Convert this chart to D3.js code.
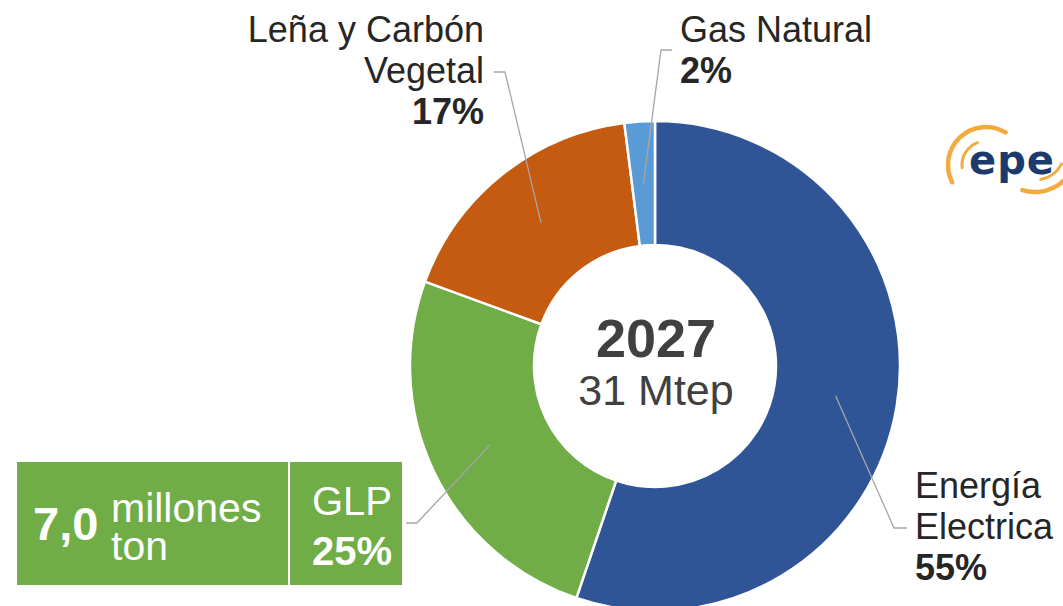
<!DOCTYPE html>
<html>
<head>
<meta charset="utf-8">
<script src="https://cdn.jsdelivr.net/npm/d3@7"></script>
<style>
  body { margin: 0; background: #fff; }
  svg { display: block; font-family: "Liberation Sans", Arial, sans-serif; }
</style>
</head>
<body>
<div id="chart"></div>
<script>
// data
var categories = ["Energía Electrica", "GLP", "Leña y Carbón Vegetal", "Gas Natural"];
var shares = [55.2, 25.4, 17.4, 2.0];
var pctLabels = ["55%", "25%", "17%", "2%"];
var colors = ["#2F5597", "#70AD47", "#C55A11", "#5B9BD5"];
var centerYear = "2027";
var centerTotal = "31 Mtep";
var glpVolume = "7,0";
var glpUnit = ["millones", "ton"];

var svgWidth = 1063;
var svgHeight = 606;
var cx = 655, cy = 366;
var outerR = 245, innerR = 121;

var svg = d3.select("#chart")
  .append("svg")
  .attr("width", svgWidth)
  .attr("height", svgHeight);

var g = svg.append("g").attr("transform", `translate(${cx},${cy})`);

var pie = d3.pie().sort(null).value(d => d.value);
var arc = d3.arc().innerRadius(innerR).outerRadius(outerR);
var midArc = d3.arc().innerRadius(183).outerRadius(183);

var slices = pie(categories.map((c, i) => ({ name: c, value: shares[i], i: i })));

g.selectAll("path.slice")
  .data(slices)
  .enter()
  .append("path")
  .attr("class", "slice")
  .attr("d", arc)
  .attr("fill", d => colors[d.data.i])
  .attr("stroke", "#fff")
  .attr("stroke-width", 2.5);

// center text
g.append("text")
  .attr("x", 1).attr("y", -9)
  .attr("text-anchor", "middle")
  .attr("font-size", "54px")
  .attr("font-weight", "bold")
  .attr("fill", "#404040")
  .text(centerYear);

g.append("text")
  .attr("x", 1).attr("y", 39)
  .attr("text-anchor", "middle")
  .attr("font-size", "43px")
  .attr("fill", "#404040")
  .text(centerTotal);

// label layout (page coords): leader elbow, leader end, text anchor
var labelLayout = [
  { elbow: [894, 528], end: [907, 528], x: 915, y: 498, anchor: "start", lines: ["Energía", "Electrica"] },
  { elbow: [417, 523], end: [406, 523], x: null },
  { elbow: [505, 72], end: [494, 72], x: 484, y: 42, anchor: "end", lines: ["Leña y Carbón", "Vegetal"] },
  { elbow: [661, 50], end: [672, 50], x: 680, y: 42, anchor: "start", lines: ["Gas Natural"] }
];

slices.forEach(function(d, i) {
  var L = labelLayout[i];
  var c = midArc.centroid(d);
  var pts = [[c[0] + cx, c[1] + cy], L.elbow, L.end];
  svg.append("polyline")
    .attr("points", pts.map(p => p.join(",")).join(" "))
    .attr("fill", "none")
    .attr("stroke", "#a6a6a6")
    .attr("stroke-width", 1.3);

  if (L.x === null) return;
  var t = svg.append("text")
    .attr("text-anchor", L.anchor)
    .attr("font-size", "36px")
    .attr("fill", "#262626");
  L.lines.forEach(function(line, k) {
    t.append("tspan").attr("x", L.x).attr("y", L.y + k * 41).text(line);
  });
  t.append("tspan")
    .attr("x", L.x)
    .attr("y", L.y + L.lines.length * 41)
    .attr("font-weight", "bold")
    .text(pctLabels[i]);
});

// GLP box
var box = svg.append("g");
box.append("rect")
  .attr("x", 17).attr("y", 462)
  .attr("width", 385).attr("height", 123)
  .attr("fill", "#70AD47");
box.append("line")
  .attr("x1", 289).attr("x2", 289)
  .attr("y1", 462).attr("y2", 585)
  .attr("stroke", "#fff").attr("stroke-width", 2);
box.append("text")
  .attr("x", 33).attr("y", 540)
  .attr("font-size", "47px")
  .attr("font-weight", "bold")
  .attr("fill", "#fff")
  .text(glpVolume);
box.append("text")
  .attr("font-size", "41px")
  .attr("fill", "#fff")
  .selectAll("tspan")
  .data(glpUnit)
  .enter()
  .append("tspan")
  .attr("x", 111)
  .attr("y", (d, k) => 522 + k * 38)
  .text(d => d);
box.append("text")
  .attr("x", 312).attr("y", 515)
  .attr("font-size", "40px")
  .attr("fill", "#fff")
  .text(categories[1].split(" ")[0]);
box.append("text")
  .attr("x", 312).attr("y", 565)
  .attr("font-size", "40px")
  .attr("font-weight", "bold")
  .attr("fill", "#fff")
  .text(pctLabels[1]);

// epe logo
var defs = svg.append("defs");
var grad = defs.append("linearGradient").attr("id", "og")
  .attr("gradientUnits", "userSpaceOnUse")
  .attr("x1", 945).attr("y1", 130).attr("x2", 1063).attr("y2", 195);
grad.append("stop").attr("offset", "0%").attr("stop-color", "#F29B1B");
grad.append("stop").attr("offset", "100%").attr("stop-color", "#F6C040");

var logoArcs = [
  { x: 986, y: 165, r: 38, a0: -2.1, a1: 0.6, w: 4.5 },
  { x: 986, y: 165, r: 24, a0: -1.75, a1: -0.3, w: 3 },
  { x: 1035, y: 150, r: 42, a0: 1.9, a1: 3.5, w: 4.5 },
  { x: 1035, y: 150, r: 30, a0: 2.0, a1: 3.0, w: 3 }
];
logoArcs.forEach(function(a) {
  svg.append("path")
    .attr("transform", `translate(${a.x},${a.y})`)
    .attr("d", d3.arc().innerRadius(a.r - a.w / 2).outerRadius(a.r + a.w / 2)
      .startAngle(a.a0).endAngle(a.a1).cornerRadius(a.w / 2)())
    .attr("fill", "url(#og)")
    .attr("opacity", 0.85);
});
svg.append("text")
  .attr("x", 969).attr("y", 174)
  .attr("font-family", "'DejaVu Sans', sans-serif")
  .attr("font-size", "40px")
  .attr("font-weight", "bold")
  .attr("letter-spacing", "1px")
  .attr("fill", "#1C3A6B")
  .text("epe");
</script>
</body>
</html>
